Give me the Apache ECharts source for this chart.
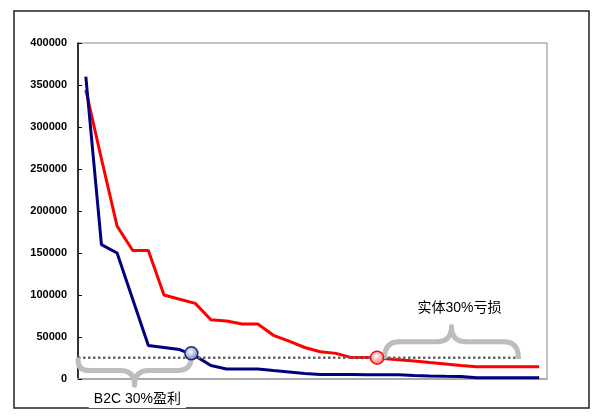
<!DOCTYPE html>
<html><head><meta charset="utf-8">
<script src="https://cdn.jsdelivr.net/npm/echarts@6/dist/echarts.min.js"></script>
<style>html,body{margin:0;padding:0;background:#fff}#c{width:600px;height:418px}</style>
</head><body><div id="c"></div>
<script>
// ---- data ----
const blueSeries = [360000, 160000, 150000, 95000, 40000, 37500, 35000, 27500, 16000, 12000,
                    12000, 12000, 10000, 8300, 6500, 5500, 5500, 5500, 5000, 5000,
                    5000, 4200, 3600, 3200, 2900, 1500, 1500, 1500, 1500, 1500];
const redSeries  = [344000, 262000, 182000, 153000, 153000, 100000, 95000, 90000, 70500, 69000,
                    65500, 65500, 52000, 45000, 37500, 32500, 30500, 25500, 25500, 24500,
                    23000, 21400, 19600, 17900, 16000, 14500, 14500, 14500, 14500, 14500];
const yMin = 0, yMax = 400000, yStep = 50000;
const threshold = 25400;
const thresholdSpan = [-0.5, 27.87];
const blueMarker = [6.75, 30600];
const redMarker = [18.63, 25400];
const braceLabels = ['B2C 30%盈利', '实体30%亏损'];
const braceFrom = [[-0.5, 23000], [19.12, 26500]];
const braceTo   = [[6.75, 26500], [27.66, 26500]];
const braceTip  = [[3.12, -7100], [23.39, 62300]];
const braceMid  = [10100, 44400];
const labelPos  = [[3.3, -23800], [23.9, 84500]];

const chart = echarts.init(document.getElementById('c'), null, {renderer: 'canvas'});
const toXY = arr => arr.map((v, i) => [i, v]);

const option = {
  animation: false,
  backgroundColor: '#ffffff',
  grid: {left: 78, top: 43, right: 53, bottom: 39, show: true, borderColor: '#888', borderWidth: 1},
  graphic: [{
    type: 'rect', z: 0,
    shape: {x: 14, y: 11, width: 575, height: 397},
    style: {fill: null, stroke: '#222', lineWidth: 1.5}
  }],
  xAxis: {
    type: 'value', min: -0.5, max: blueSeries.length - 0.5,
    axisLine: {show: true, onZero: false, lineStyle: {color: '#aaa', width: 2}},
    axisTick: {show: false}, axisLabel: {show: false}, splitLine: {show: false}
  },
  yAxis: {
    type: 'value', min: yMin, max: yMax, interval: yStep,
    axisLine: {show: true, onZero: false, lineStyle: {color: '#000', width: 1.5}},
    axisTick: {show: true, inside: true, length: 4, lineStyle: {color: '#000', width: 1}},
    axisLabel: {color: '#000', fontSize: 11, fontWeight: 'bold', fontFamily: 'Liberation Sans, Arial, sans-serif', margin: 11,
                formatter: v => String(v)},
    splitLine: {show: false}
  },
  series: [
    {type: 'line', data: toXY(redSeries), symbol: 'none', z: 3,
     lineStyle: {color: '#ff0000', width: 3}},
    {type: 'line', data: toXY(blueSeries), symbol: 'none', z: 3,
     lineStyle: {color: '#000080', width: 3}},
    {type: 'line', data: thresholdSpan.map(x => [x, threshold]), symbol: 'none', z: 4,
     lineStyle: {color: '#666', width: 2.5, type: [2.5, 2.5]}},
    {type: 'custom', z: 5, clip: false,
     data: braceTip.map((t, i) => [t[0], t[1], i]),
     encode: {x: 0, y: 1},
     renderItem: function (params, api) {
       const i = params.dataIndex;
       const a = api.coord(braceFrom[i]);
       const b = api.coord(braceTo[i]);
       const t = api.coord(braceTip[i]);
       const m = api.coord([braceTip[i][0], braceMid[i]])[1];
       const r1 = Math.abs(m - a[1]), r2 = Math.abs(m - b[1]), rt = Math.abs(t[1] - m);
       const st = {stroke: '#bdbdbd', lineWidth: 5, fill: null, lineCap: 'round'};
       const lp = api.coord(labelPos[i]);
       return {
         type: 'group',
         children: [
           {type: 'bezierCurve', shape: {x1: a[0], y1: a[1], cpx1: a[0], cpy1: m, x2: a[0] + r1, y2: m}, style: st},
           {type: 'line', shape: {x1: a[0] + r1, y1: m, x2: t[0] - rt, y2: m}, style: st},
           {type: 'bezierCurve', shape: {x1: t[0] - rt, y1: m, cpx1: t[0], cpy1: m, x2: t[0], y2: t[1]}, style: st},
           {type: 'bezierCurve', shape: {x1: t[0], y1: t[1], cpx1: t[0], cpy1: m, x2: t[0] + rt, y2: m}, style: st},
           {type: 'line', shape: {x1: t[0] + rt, y1: m, x2: b[0] - r2, y2: m}, style: st},
           {type: 'bezierCurve', shape: {x1: b[0] - r2, y1: m, cpx1: b[0], cpy1: m, x2: b[0], y2: b[1]}, style: st},
           {type: 'text', z2: 10, style: {
             text: braceLabels[i], x: lp[0], y: lp[1], align: 'center', verticalAlign: 'middle',
             font: '14px "Liberation Sans", "Noto Sans CJK SC", sans-serif', fill: '#000',
             backgroundColor: '#fff', padding: [2, 5]
           }}
         ]
       };
     }},
    {type: 'scatter', z: 6, data: [blueMarker], symbol: 'circle', symbolSize: 13,
     itemStyle: {
       color: {type: 'radial', x: 0.45, y: 0.4, r: 0.6, colorStops: [{offset: 0, color: '#ffffff'}, {offset: 1, color: '#6a78b8'}]},
       borderColor: '#1a2a80', borderWidth: 1.5, opacity: 1
     }},
    {type: 'scatter', z: 6, data: [redMarker], symbol: 'circle', symbolSize: 13,
     itemStyle: {
       color: {type: 'radial', x: 0.45, y: 0.4, r: 0.6, colorStops: [{offset: 0, color: '#ffffff'}, {offset: 1, color: '#ff6a6a'}]},
       borderColor: '#ee1111', borderWidth: 1.5, opacity: 1
     }}
  ]
};
chart.setOption(option);
</script>
</body></html>
